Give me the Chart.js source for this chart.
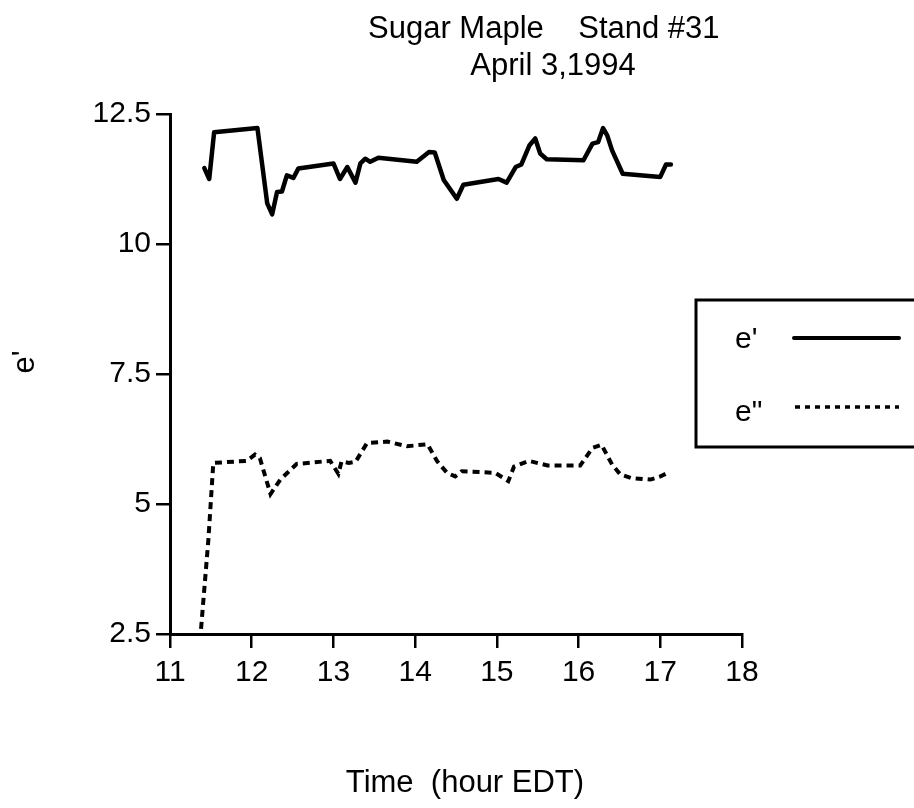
<!DOCTYPE html>
<html>
<head>
<meta charset="utf-8">
<script src="https://cdn.jsdelivr.net/npm/chart.js@4/dist/chart.umd.min.js"></script>
<style>
  html, body { margin: 0; padding: 0; background: #fff; }
  #wrap { width: 914px; height: 808px; position: relative; }
</style>
</head>
<body>
<div id="wrap"><canvas id="c" width="914" height="808"></canvas></div>
<script>
// ---- data ----
const titleLines = ["Sugar Maple    Stand #31", "April 3,1994"];
const xTitle = "Time  (hour EDT)";
const yTitle = "e'";
const seriesNames = ["e'", "e\""];

const xTicks = [11, 12, 13, 14, 15, 16, 17, 18];
const yTicks = [2.5, 5, 7.5, 10, 12.5];

const ePrimeTime = [11.42,11.48,11.54,12.07,12.19,12.25,12.31,12.37,12.43,12.51,12.57,13.00,13.08,13.17,13.27,13.33,13.39,13.45,13.55,14.02,14.17,14.24,14.35,14.51,14.59,15.02,15.12,15.23,15.30,15.40,15.47,15.53,15.61,16.06,16.17,16.24,16.30,16.35,16.41,16.54,17.00,17.07,17.13];
const ePrimeValue = [11.46,11.25,12.15,12.23,10.78,10.57,11.00,11.01,11.32,11.27,11.45,11.55,11.25,11.48,11.18,11.55,11.64,11.58,11.66,11.58,11.77,11.76,11.23,10.87,11.14,11.25,11.18,11.48,11.53,11.90,12.03,11.74,11.63,11.61,11.93,11.96,12.23,12.09,11.80,11.35,11.29,11.53,11.53];

const eDoubleTime = [11.38,11.47,11.53,11.94,12.04,12.10,12.23,12.35,12.55,12.96,13.06,13.10,13.19,13.27,13.41,13.66,13.90,14.15,14.27,14.39,14.49,14.57,14.98,15.14,15.21,15.39,15.62,16.02,16.17,16.28,16.41,16.51,16.64,16.88,17.00,17.09];
const eDoubleValue = [2.60,4.32,5.79,5.83,5.95,5.88,5.19,5.47,5.77,5.83,5.58,5.82,5.79,5.81,6.17,6.20,6.11,6.15,5.82,5.60,5.53,5.63,5.60,5.44,5.72,5.83,5.74,5.74,6.08,6.14,5.76,5.57,5.50,5.47,5.53,5.60];

const toPoints = (xs, ys) => xs.map((x, i) => ({ x: x, y: ys[i] }));

const FONT = "'Liberation Sans', Arial, Helvetica, sans-serif";

const overlay = {
  id: 'overlay',
  afterDraw(chart) {
    const ctx = chart.ctx;
    ctx.save();
    ctx.fillStyle = '#000';
    ctx.font = '31px ' + FONT;
    ctx.textBaseline = 'alphabetic';
    ctx.textAlign = 'left';
    ctx.fillText(titleLines[0], 368, 38);
    ctx.textAlign = 'center';
    ctx.fillText(titleLines[1], 553, 75);
    ctx.fillText(xTitle, 465, 792);
    ctx.save();
    ctx.translate(34, 362);
    ctx.rotate(-Math.PI / 2);
    ctx.fillText(yTitle, 0, 0);
    ctx.restore();

    // legend box
    ctx.lineWidth = 3;
    ctx.strokeStyle = '#000';
    ctx.strokeRect(696, 300, 240, 147);
    ctx.textAlign = 'left';
    ctx.font = '30px ' + FONT;
    ctx.fillText(seriesNames[0], 735, 348);
    ctx.fillText(seriesNames[1], 735, 421);
    ctx.lineCap = 'round';
    ctx.lineWidth = 4;
    ctx.beginPath(); ctx.moveTo(794, 338); ctx.lineTo(899, 338); ctx.stroke();
    ctx.lineCap = 'butt';
    ctx.lineWidth = 3.5;
    ctx.setLineDash([5, 5]);
    ctx.beginPath(); ctx.moveTo(795, 407); ctx.lineTo(899, 407); ctx.stroke();
    ctx.restore();
  }
};

new Chart(document.getElementById('c'), {
  type: 'line',
  data: {
    datasets: [
      {
        label: seriesNames[0],
        data: toPoints(ePrimeTime, ePrimeValue),
        borderColor: '#000',
        borderWidth: 4.5,
        pointRadius: 0,
        tension: 0,
        fill: false,
        borderJoinStyle: 'round',
        borderCapStyle: 'round'
      },
      {
        label: seriesNames[1],
        data: toPoints(eDoubleTime, eDoubleValue),
        borderColor: '#000',
        borderWidth: 4,
        borderDash: [7, 5],
        pointRadius: 0,
        tension: 0,
        fill: false
      }
    ]
  },
  options: {
    responsive: false,
    animation: false,
    devicePixelRatio: 1,
    layout: { padding: { left: 0, right: 172, top: 114, bottom: 0 } },
    plugins: { legend: { display: false }, title: { display: false }, tooltip: { enabled: false } },
    scales: {
      x: {
        type: 'linear',
        min: 11, max: 18,
        afterFit(s) { s.height = 174; },
        afterBuildTicks(s) { s.ticks = xTicks.map(v => ({ value: v })); },
        ticks: { color: '#000', font: { size: 30, family: FONT }, padding: 7, maxRotation: 0 },
        grid: { drawOnChartArea: false, color: '#000', lineWidth: 2.5, tickLength: 14 },
        border: { color: '#000', width: 3 }
      },
      y: {
        type: 'linear',
        min: 2.5, max: 12.5,
        afterFit(s) { s.width = 170; },
        afterBuildTicks(s) { s.ticks = yTicks.map(v => ({ value: v })); },
        ticks: { color: '#000', font: { size: 30, family: FONT }, padding: 5 },
        grid: { drawOnChartArea: false, color: '#000', lineWidth: 2.5, tickLength: 14 },
        border: { color: '#000', width: 3 }
      }
    }
  },
  plugins: [overlay]
});
</script>
</body>
</html>
